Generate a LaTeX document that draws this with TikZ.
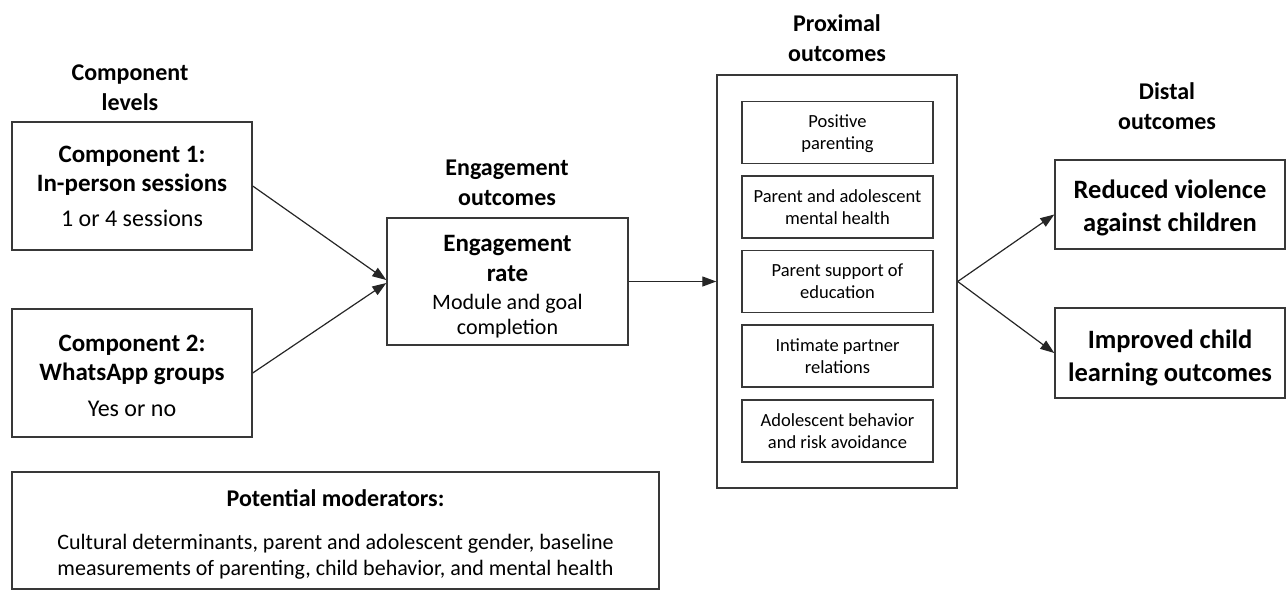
\documentclass[tikz,border=0pt]{standalone}
\usepackage{fontspec}
\setmainfont{Carlito}
\usetikzlibrary{arrows.meta,calc}
\begin{document}
\begin{tikzpicture}[x=1pt,y=-1pt,
  box/.style={draw=black!78, line width=1.4pt, align=center, inner sep=0pt},
  ttl/.style={align=center, font=\fontsize{24}{30}\selectfont\bfseries},
  arr/.style={draw=black!85, line width=1.2pt, -{Triangle[length=14pt,width=10pt]}},
]
\useasboundingbox (0,0) rectangle (1288,590);
% titles
\node[ttl] (tcomp) at (130,87.5) {Component\\levels};
\node[ttl] (teng) at (507,182.5) {Engagement\\outcomes};
\node[ttl] (tprox) at (837,38.5) {Proximal\\outcomes};
\node[ttl] (tdist) at (1167,106.5) {Distal\\outcomes};
% component boxes
\node[box, minimum width=240, minimum height=128, font=\fontsize{25}{29.5}\selectfont] (c1) at (132,186)
  {\textbf{Component 1:}\\\textbf{In-person sessions}\\[5pt]{\fontsize{24}{28}\selectfont 1 or 4 sessions}};
\node[box, minimum width=240, minimum height=128, font=\fontsize{25}{29.5}\selectfont] (c2) at (132,373)
  {\rule{0pt}{22pt}\textbf{Component 2:}\\\textbf{WhatsApp groups}\\[6pt]{\fontsize{24}{28}\selectfont Yes or no}};
% engagement
\node[box, minimum width=241, minimum height=127, font=\fontsize{25}{25}\selectfont] (eng) at (507.5,281.5)
  {\rule{0pt}{26pt}\textbf{Engagement}\\[5pt]\textbf{rate}\\[3pt]{\fontsize{22}{25}\selectfont Module and goal}\\{\fontsize{22}{25}\selectfont completion}};
% proximal
\node[box, minimum width=240, minimum height=413] (prox) at (837,281.5) {};
\tikzset{inner/.style={box, minimum width=191, minimum height=62, font=\fontsize{18.5}{22}\selectfont}}
\node[inner] (p1) at (837.5,132.5) {\rule{0pt}{16pt}Positive\\parenting};
\node[inner] (p2) at (837.5,207) {Parent and adolescent\\mental health};
\node[inner] (p3) at (837.5,281.5) {Parent support of\\education};
\node[inner] (p4) at (837.5,356) {Intimate partner\\relations};
\node[inner] (p5) at (837.5,431) {Adolescent behavior\\and risk avoidance};
% distal
\node[box, minimum width=230, minimum height=89, font=\fontsize{26.5}{33}\selectfont\bfseries] (red) at (1170,204.5)
  {\rule{0pt}{26pt}Reduced violence\\against children};
\node[box, minimum width=230, minimum height=90, font=\fontsize{26.5}{33}\selectfont\bfseries] (imp) at (1170,353)
  {\rule{0pt}{28pt}Improved child\\learning outcomes};
% moderators
\node[box, minimum width=647, minimum height=117, font=\fontsize{22}{26}\selectfont] (mod) at (335.5,530.5)
  {\rule{0pt}{24pt}\textbf{\fontsize{24}{26}\selectfont Potential moderators:}\\[17pt]Cultural determinants, parent and adolescent gender, baseline\\measurements of parenting, child behavior, and mental health};
% arrows
\draw[arr] (c1.east) -- ([yshift=1.5pt]eng.west);
\draw[arr] (c2.east) -- ([yshift=-1.5pt]eng.west);
\draw[arr] (eng.east) -- (prox.west);
\draw[arr] (prox.east) -- ([yshift=-10pt]red.west);
\draw[arr] (prox.east) -- (imp.west);
\end{tikzpicture}
\end{document}
